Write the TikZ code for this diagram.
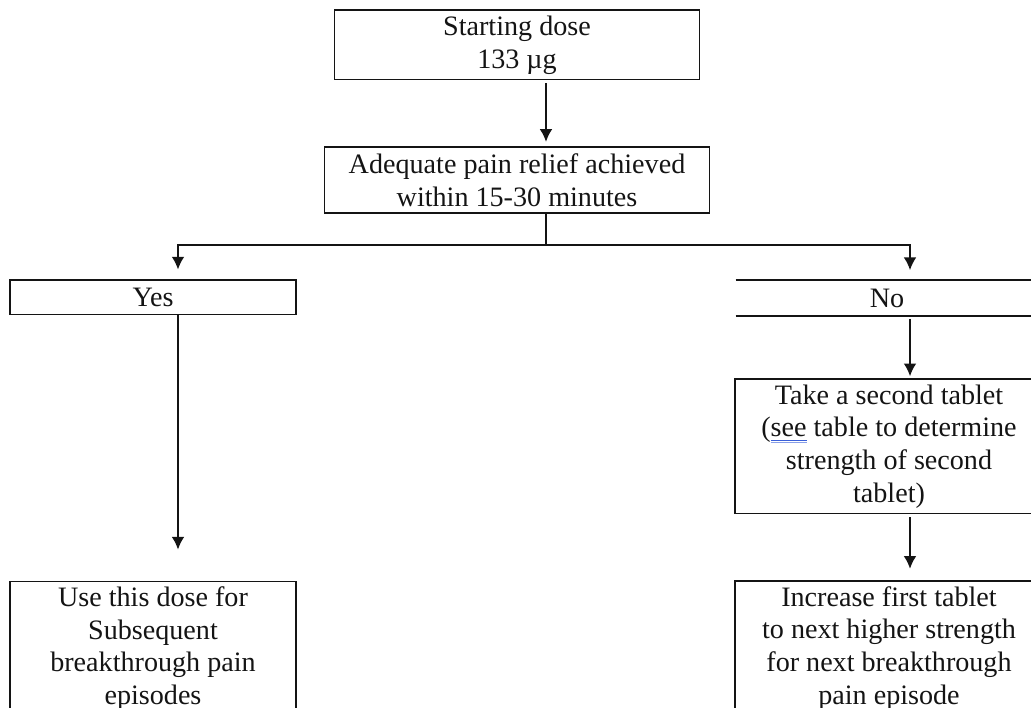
\documentclass[tikz,border=0pt]{standalone}
\usepackage{fontspec}
\setmainfont{Liberation Serif}
\usepackage{xcolor}
\usetikzlibrary{arrows.meta,positioning}
\definecolor{ink}{HTML}{141414}
\definecolor{spellblue}{HTML}{3A5FD8}
\newcommand{\spellmark}[1]{\setbox0\hbox{#1}%
  \rlap{\textcolor{spellblue}{\rule[-2.6pt]{\wd0}{0.7pt}}}%
  \rlap{\textcolor{spellblue!60}{\rule[-4.2pt]{\wd0}{0.6pt}}}#1}
\tikzset{
  flowbox/.style={draw=ink,line width=1.1pt,align=center,inner sep=4pt,
                  text=ink,font=\fontsize{20}{23.2}\selectfont},
  openbox/.style={align=center,inner sep=4pt,text=ink,
                  font=\fontsize{20}{23.2}\selectfont},
  boxline/.style={draw=ink,line width=1.1pt},
  flowline/.style={draw=ink,line width=1.1pt},
  flowarr/.style={-{Latex[length=9pt,width=9pt]},draw=ink,line width=1.1pt}
}

\begin{document}
\begin{tikzpicture}[x=0.025cm,y=-0.025cm,>=Latex]
  \useasboundingbox (0,0) rectangle (1031,708);
  \clip (0,0) rectangle (1031,708);

  \node[flowbox,minimum width=9.125cm,minimum height=1.66cm] (start) at (517,45)
    {Starting dose\\133 µg};
  \node[flowbox,minimum width=9.625cm,minimum height=1.66cm] (relief) at (517,180)
    {Adequate pain relief achieved\\within 15-30 minutes};
  \node[flowbox,minimum width=7.15cm,minimum height=0.86cm] (yes) at (153,297.3) {Yes};
  \node[openbox,minimum width=7.55cm,minimum height=0.89cm] (no) at (887,298) {No};
  \draw[boxline] (no.north west) -- (no.north east) (no.south west) -- (no.south east);
  \node[flowbox,minimum width=7.7cm,minimum height=3.32cm] (second) at (889,446.4)
    {Take a second tablet\\(\spellmark{see} table to determine\\strength of second\\tablet)};
  \node[flowbox,anchor=north,minimum width=7.15cm] (use) at (153,580.5)
    {Use this dose for\\Subsequent\\breakthrough pain\\episodes};
  \node[flowbox,anchor=north,minimum width=7.7cm] (increase) at (889,580)
    {Increase first tablet\\to next higher strength\\for next breakthrough\\pain episode};

  % connectors
  \coordinate (split) at (546,245);
  \coordinate (leftdrop) at (178,245);
  \coordinate (rightdrop) at (910,245);
  \draw[flowarr,shorten <=2pt,shorten >=3pt] (start.south -| split) -- (relief.north -| split);
  \draw[flowline] (relief.south -| split) -- (split);
  \draw[flowarr,shorten >=7pt] (split) -| (yes.north -| leftdrop);
  \draw[flowarr,shorten >=7pt] (split) -| (no.north -| rightdrop);
  \draw[flowarr,shorten >=22pt] (yes.south -| leftdrop) -- (use.north -| leftdrop);
  \draw[flowarr,shorten <=2pt,shorten >=1.5pt] (no.south -| rightdrop) -- (second.north -| rightdrop);
  \draw[flowarr,shorten <=2pt,shorten >=8pt] (second.south -| rightdrop) -- (increase.north -| rightdrop);
\end{tikzpicture}
\end{document}
